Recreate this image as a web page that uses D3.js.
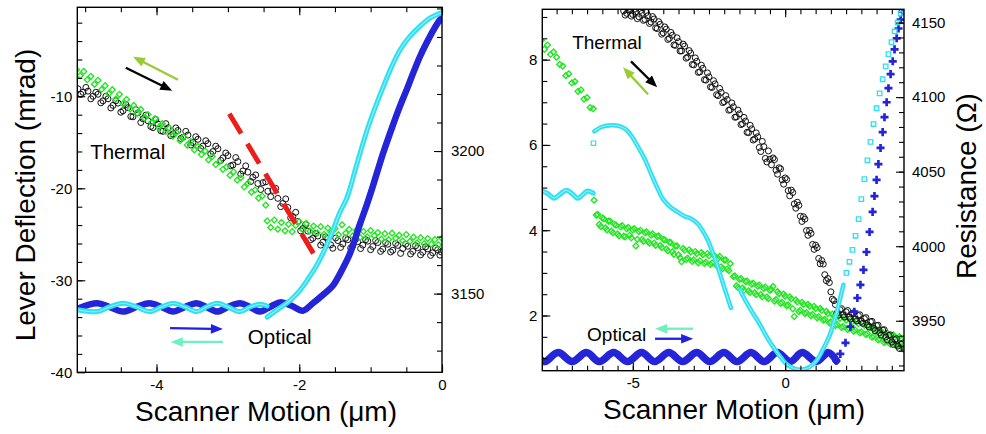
<!DOCTYPE html>
<html>
<head>
<meta charset="utf-8">
<title>Lever deflection and resistance vs scanner motion</title>
<style>
  body { margin: 0; background: #fff; }
</style>
</head>
<body>
<svg id="chart" width="986" height="434"></svg>
<script src="https://d3js.org/d3.v7.min.js"></script>
<script>
// ---------- left panel (x in um, optical in mrad, thermal in ohm) ----------
var leftBlackCircles = [
  [-5.10,3221.8],[-5.03,3220.6],[-4.96,3221.0],[-4.89,3219.2],[-4.82,3219.9],[-4.75,3217.6],[-4.68,3218.3],
  [-4.61,3216.0],[-4.54,3216.8],[-4.47,3214.1],[-4.40,3215.2],[-4.33,3212.0],[-4.26,3213.4],[-4.19,3211.3],
  [-4.12,3210.6],[-4.05,3208.2],[-3.98,3209.5],[-3.91,3206.9],[-3.84,3208.1],[-3.77,3206.0],[-3.70,3207.2],
  [-3.63,3204.8],[-3.56,3205.6],[-3.49,3203.0],[-3.42,3204.1],[-3.35,3201.7],[-3.28,3202.6],[-3.21,3199.8],
  [-3.14,3200.8],[-3.07,3197.6],[-3.00,3198.4],[-2.93,3195.1],[-2.86,3196.3],[-2.79,3193.0],[-2.72,3192.6],
  [-2.65,3190.8],[-2.58,3188.6],[-2.51,3188.9],[-2.44,3185.9],[-2.37,3186.2],[-2.30,3183.4],[-2.23,3181.6],
  [-2.16,3180.2],[-2.09,3177.0],[-2.02,3175.3],[-1.95,3172.8],[-1.88,3171.9],[-1.81,3169.4],[-1.74,3170.2],
  [-1.67,3168.0],[-1.60,3169.3],[-1.53,3165.9],[-1.46,3168.6],[-1.39,3167.4],[-1.32,3168.9],[-1.25,3166.8],
  [-1.18,3168.2],[-1.11,3167.0],[-1.04,3168.4],[-0.97,3166.5],[-0.90,3167.9],[-0.83,3165.6],[-0.76,3167.3],
  [-0.69,3165.2],[-0.62,3166.9],[-0.55,3165.8],[-0.48,3166.6],[-0.41,3164.8],[-0.34,3166.1],[-0.27,3164.5],
  [-0.20,3165.7],[-0.13,3164.3],[-0.06,3165.4],[-0.01,3164.6]
];
var leftBlackCirclesB = [
  [-5.06,3219.9],[-4.99,3222.3],[-4.92,3218.3],[-4.85,3220.6],[-4.78,3216.9],[-4.71,3219.2],[-4.64,3215.1],
  [-4.57,3217.6],[-4.50,3213.6],[-4.43,3216.3],[-4.36,3212.1],[-4.29,3214.5],[-4.22,3210.0],[-4.15,3212.6],
  [-4.08,3208.6],[-4.01,3211.0],[-3.94,3207.1],[-3.87,3209.6],[-3.80,3205.4],[-3.73,3208.1],[-3.66,3204.4],
  [-3.59,3206.9],[-3.52,3202.1],[-3.45,3205.0],[-3.38,3200.9],[-3.31,3203.6],[-3.24,3199.0],[-3.17,3201.7],
  [-3.10,3196.7],[-3.03,3199.3],[-2.96,3194.8],[-2.89,3197.7],[-2.82,3191.9],[-2.75,3194.8],[-2.68,3189.3],
  [-2.61,3191.6],[-2.54,3186.5],[-2.47,3189.2],[-2.40,3184.0],[-2.33,3186.9],[-2.26,3180.5],[-2.19,3183.2],
  [-2.12,3176.6],[-2.05,3178.5],[-1.98,3172.0],[-1.91,3174.2],[-1.84,3168.9],[-1.77,3171.1],[-1.70,3167.0],
  [-1.63,3169.9],[-1.56,3167.1],[-1.49,3169.5],[-1.42,3166.2],[-1.35,3169.4],[-1.28,3166.0],[-1.21,3169.1],
  [-1.14,3165.8],[-1.07,3168.9],[-1.00,3165.4],[-0.93,3168.6],[-0.86,3164.8],[-0.79,3167.9],[-0.72,3164.6],
  [-0.65,3167.6],[-0.58,3164.1],[-0.51,3167.3],[-0.44,3163.9],[-0.37,3166.8],[-0.30,3163.6],[-0.23,3166.4],
  [-0.16,3163.4],[-0.09,3166.0],[-0.03,3163.5]
];
var leftGreenUpper = [
  [-5.12,3228.5],[-5.07,3226.4],[-5.02,3227.9],[-4.97,3225.0],[-4.92,3226.2],[-4.87,3223.4],[-4.82,3224.8],
  [-4.77,3221.6],[-4.72,3222.9],[-4.67,3220.1],[-4.62,3221.5],[-4.57,3218.2],[-4.52,3219.9],[-4.47,3216.6],
  [-4.42,3218.1],[-4.37,3214.7],[-4.32,3216.0],[-4.27,3213.2],[-4.22,3214.6],[-4.17,3211.5],[-4.12,3212.8],
  [-4.07,3210.0],[-4.02,3211.4],[-3.97,3208.3],[-3.92,3209.6],[-3.87,3206.9],[-3.82,3208.0],[-3.77,3205.2],
  [-3.72,3206.5],[-3.67,3203.6],[-3.62,3205.0],[-3.57,3202.1],[-3.52,3203.3],[-3.47,3200.4],[-3.42,3201.6],
  [-3.37,3198.8],[-3.32,3200.0],[-3.27,3196.9],[-3.22,3198.1],[-3.17,3195.3],[-3.12,3196.2],[-3.07,3193.6],
  [-3.02,3194.4],[-2.97,3191.5],[-2.92,3192.7],[-2.87,3189.8],[-2.82,3190.6],[-2.77,3187.4],[-2.72,3188.7],
  [-2.67,3185.6],[-2.62,3186.3],[-2.57,3183.5],[-2.52,3184.2],[-2.47,3181.0]
];
var leftGreenLower = [
  [-2.45,3175.5],[-2.40,3173.2],[-2.35,3175.8],[-2.30,3172.6],[-2.25,3174.9],[-2.20,3172.0],[-2.15,3174.3],
  [-2.10,3171.7],[-2.05,3173.9],[-2.00,3175.2],[-1.95,3172.4],[-1.90,3174.6],[-1.85,3171.9],[-1.80,3173.7],
  [-1.75,3171.3],[-1.70,3173.5],[-1.65,3170.8],[-1.60,3173.0],[-1.55,3171.5],[-1.50,3172.8],[-1.45,3170.6],
  [-1.40,3174.1],[-1.35,3171.2],[-1.30,3172.5],[-1.25,3170.2],[-1.20,3172.2],[-1.15,3169.7],[-1.10,3171.8],
  [-1.05,3169.9],[-1.00,3172.1],[-0.95,3170.3],[-0.90,3171.4],[-0.85,3169.1],[-0.80,3171.0],[-0.75,3168.9],
  [-0.70,3171.2],[-0.65,3169.4],[-0.60,3170.5],[-0.55,3168.5],[-0.50,3170.7],[-0.45,3168.3],[-0.40,3169.8],
  [-0.35,3167.8],[-0.30,3169.6],[-0.25,3167.5],[-0.20,3169.3],[-0.15,3167.4],[-0.10,3168.9],[-0.05,3167.1],
  [0.00,3169.4]
];
var leftBlueOptical = [
  [-5.11,-33.1],[-4.83,-32.5],[-4.66,-32.9],[-4.47,-33.4],[-4.28,-32.9],[-4.10,-32.5],[-3.93,-32.9],
  [-3.77,-33.4],[-3.60,-32.9],[-3.44,-32.5],[-3.30,-32.9],[-3.15,-33.4],[-3.00,-32.9],[-2.83,-32.5],
  [-2.69,-32.9],[-2.55,-33.4],[-2.41,-32.9],[-2.27,-32.4],[-2.10,-32.8],[-1.95,-33.3],[-1.81,-32.5],
  [-1.67,-31.6],[-1.53,-30.6],[-1.43,-29.3],[-1.29,-27.1],[-1.15,-23.9],[-1.05,-21.7],[-0.97,-19.8],
  [-0.83,-16.3],[-0.70,-13.4],[-0.59,-11.1],[-0.49,-9.2],[-0.40,-7.4],[-0.31,-5.7],[-0.21,-4.1],
  [-0.12,-2.8],[-0.03,-1.7],[0,-1.5]
];
var leftCyanWave = [
  [-5.11,-33.2],[-4.83,-33.4],[-4.66,-32.9],[-4.47,-32.5],[-4.28,-32.9],[-4.10,-33.4],[-3.93,-32.9],
  [-3.77,-32.5],[-3.60,-32.9],[-3.44,-33.4],[-3.30,-32.9],[-3.15,-32.5],[-3.00,-32.9],[-2.83,-33.4],
  [-2.69,-32.9],[-2.55,-32.6],[-2.45,-32.8]
];
var leftCyanRise = [
  [-2.45,-34.0],[-2.27,-33.0],[-2.13,-32.2],[-1.99,-31.1],[-1.89,-30.0],[-1.78,-28.7],[-1.67,-27.1],
  [-1.53,-24.6],[-1.43,-22.6],[-1.33,-21.0],[-1.19,-17.3],[-1.05,-13.7],[-0.94,-11.3],[-0.83,-9.1],
  [-0.70,-6.7],[-0.59,-5.0],[-0.45,-3.5],[-0.31,-2.4],[-0.17,-1.5],[0,-0.9]
];
var leftRedGuide = [[-2.98,-11.9],[-1.80,-27.1]];

var leftXTicks = [-4, -2, 0];
var leftYTicks = [-40, -30, -20, -10];
var leftRTicks = [3150, 3200];

// ---------- right panel (x in um, optical signal, thermal in ohm) ----------
var rightBlackCircles = [
  [-5.3,4157.8],[-5.2,4156.2],[-5.1,4158.3],[-5.0,4155.4],[-4.9,4157.3],[-4.8,4153.9],[-4.7,4156.2],
  [-4.6,4152.1],[-4.5,4154.6],[-4.4,4150.3],[-4.3,4152.4],[-4.2,4146.0],[-4.1,4148.9],[-4.0,4143.1],
  [-3.9,4145.6],[-3.8,4139.4],[-3.7,4141.5],[-3.6,4134.7],[-3.5,4137.2],[-3.4,4131.0],[-3.3,4134.2],
  [-3.2,4126.8],[-3.1,4129.5],[-3.0,4121.6],[-2.9,4124.0],[-2.8,4116.9],[-2.7,4119.3],[-2.6,4111.4],
  [-2.5,4113.6],[-2.4,4106.5],[-2.3,4108.9],[-2.2,4101.0],[-2.1,4103.2],[-2.0,4096.9],[-1.9,4098.4],
  [-1.8,4091.6],[-1.7,4093.5],[-1.6,4086.7],[-1.5,4088.8],[-1.4,4082.1],[-1.3,4083.9],[-1.2,4076.2],
  [-1.1,4078.7],[-1.0,4071.9],[-0.9,4073.4],[-0.8,4063.5],[-0.7,4066.8],[-0.6,4056.5],[-0.5,4058.3],
  [-0.4,4059.2],[-0.3,4051.0],[-0.2,4052.6],[-0.1,4044.5],[0.0,4045.8],[0.1,4037.3],[0.2,4037.6],
  [0.3,4028.4],[0.4,4029.5],[0.5,4020.1],[0.6,4019.8],[0.7,4010.5],[0.8,4010.6],[0.9,4001.2],
  [1.0,4000.7],[1.1,3991.8],[1.2,3990.4],[1.3,3980.9],[1.4,3978.3],[1.5,3969.4],[1.6,3963.5],
  [1.7,3955.2],[1.8,3957.4],[1.9,3953.9],[2.0,3956.0],[2.1,3952.4],[2.2,3954.8],[2.3,3951.1],
  [2.4,3953.5],[2.5,3949.6],[2.6,3951.4],[2.7,3947.2],[2.8,3949.3],[2.9,3944.9],[3.0,3946.8],
  [3.1,3942.0],[3.2,3943.8],[3.3,3939.1],[3.4,3940.2],[3.5,3935.8],[3.6,3937.2],[3.7,3933.0],
  [3.8,3934.3],[3.9,3931.0]
];
var rightBlackCirclesB = [
  [-5.25,4155.0],[-5.15,4158.6],[-5.05,4154.3],[-4.95,4159.0],[-4.85,4152.6],[-4.75,4158.1],[-4.65,4151.5],
  [-4.55,4156.8],[-4.45,4149.4],[-4.35,4154.0],[-4.25,4146.4],[-4.15,4150.6],[-4.05,4142.2],[-3.95,4147.1],
  [-3.85,4138.7],[-3.75,4143.4],[-3.65,4135.0],[-3.55,4139.8],[-3.45,4130.9],[-3.35,4135.6],[-3.25,4126.1],
  [-3.15,4131.2],[-3.05,4121.9],[-2.95,4126.3],[-2.85,4116.6],[-2.75,4121.4],[-2.65,4111.7],[-2.55,4116.2],
  [-2.45,4106.8],[-2.35,4111.0],[-2.25,4101.6],[-2.15,4105.8],[-2.05,4096.3],[-1.95,4101.0],[-1.85,4091.2],
  [-1.75,4096.1],[-1.65,4086.5],[-1.55,4091.3],[-1.45,4081.6],[-1.35,4086.4],[-1.25,4076.4],[-1.15,4081.1],
  [-1.05,4071.2],[-0.95,4076.0],[-0.85,4066.2],[-0.75,4070.3],[-0.65,4058.9],[-0.55,4063.9],[-0.45,4054.6],
  [-0.35,4058.1],[-0.25,4048.3],[-0.15,4051.9],[-0.05,4041.6],[0.05,4044.7],[0.15,4033.8],[0.25,4036.0],
  [0.35,4025.5],[0.45,4027.4],[0.55,4016.6],[0.65,4018.2],[0.75,4007.3],[0.85,4008.6],[0.95,3997.9],
  [1.05,3999.0],[1.15,3988.2],[1.25,3988.0],[1.35,3976.9],[1.45,3975.6],[1.55,3964.5],[1.65,3960.8],
  [1.75,3953.8],[1.85,3958.1],[1.95,3952.6],[2.05,3956.9],[2.15,3951.3],[2.25,3955.4],[2.35,3949.9],
  [2.45,3954.0],[2.55,3948.3],[2.65,3952.1],[2.75,3945.8],[2.85,3949.6],[2.95,3943.4],[3.05,3947.0],
  [3.15,3940.4],[3.25,3944.0],[3.35,3937.2],[3.45,3940.6],[3.55,3934.1],[3.65,3937.9],[3.75,3931.4],
  [3.85,3934.9]
];
var rightGreenTop = [
  [-8.0,4138.0],[-7.9,4132.1],[-7.8,4134.9],[-7.7,4128.6],[-7.6,4130.3],[-7.5,4126.8],[-7.4,4121.9],
  [-7.3,4120.8],[-7.2,4114.4],[-7.1,4115.6],[-7.0,4109.5],[-6.9,4110.4],[-6.8,4103.9],[-6.7,4104.8],
  [-6.6,4098.7],[-6.5,4099.6],[-6.4,4093.0],[-6.3,4092.2]
];
var rightGreenSingle = [[-6.27,4030.9]];
var rightGreenMiddle = [
  [-6.2,4020.9],[-6.1,4014.6],[-6.0,4019.0],[-5.9,4012.3],[-5.8,4016.8],[-5.7,4010.1],[-5.6,4014.7],
  [-5.5,4008.2],[-5.4,4012.9],[-5.3,4006.8],[-5.2,4011.7],[-5.1,4007.3],[-5.0,4010.9],[-4.9,4000.2],
  [-4.8,4009.8],[-4.7,4004.5],[-4.6,4008.9],[-4.5,4003.0],[-4.4,4007.4],[-4.3,4002.1],[-4.2,4006.5],
  [-4.1,4000.4],[-4.0,4004.6],[-3.9,3998.2],[-3.8,4002.7],[-3.7,3996.3],[-3.6,4000.1],[-3.5,3994.2],
  [-3.4,3989.6],[-3.3,3997.3],[-3.2,3992.0],[-3.1,3996.1],[-3.0,3990.9],[-2.9,3995.0],[-2.8,3990.2],
  [-2.7,3994.4],[-2.6,3989.3],[-2.5,3993.6],[-2.4,3988.8],[-2.3,3993.0],[-2.2,3991.8],[-2.1,3986.2],
  [-2.0,3990.7],[-1.9,3984.7],[-1.8,3988.3]
];
var rightGreenMiddleB = [
  [-6.15,4021.3],[-6.05,4013.2],[-5.95,4018.4],[-5.85,4011.0],[-5.75,4016.9],[-5.65,4009.0],[-5.55,4014.1],
  [-5.45,4007.0],[-5.35,4013.8],[-5.25,4006.3],[-5.15,4012.6],[-5.05,4005.7],[-4.95,4011.8],[-4.85,4004.6],
  [-4.75,4010.7],[-4.65,4003.3],[-4.55,4009.6],[-4.45,4002.0],[-4.35,4008.2],[-4.25,4000.6],[-4.15,4006.9],
  [-4.05,3999.1],[-3.95,4004.3],[-3.85,3996.9],[-3.75,4002.4],[-3.65,3994.6],[-3.55,4000.2],[-3.45,3992.3],
  [-3.35,3998.5],[-3.25,3991.1],[-3.15,3997.6],[-3.05,3989.8],[-2.95,3996.4],[-2.85,3988.9],[-2.75,3995.7],
  [-2.65,3988.4],[-2.55,3995.1],[-2.45,3987.7],[-2.35,3994.2],[-2.25,3986.9],[-2.15,3993.1],[-2.05,3985.0],
  [-1.95,3990.9],[-1.85,3983.6]
];
var rightGreenBottom = [
  [-1.7,3979.6],[-1.6,3973.4],[-1.5,3977.8],[-1.4,3971.9],[-1.3,3976.2],[-1.2,3970.1],[-1.1,3974.5],
  [-1.0,3968.8],[-0.9,3973.2],[-0.8,3967.6],[-0.7,3971.7],[-0.6,3966.0],[-0.5,3970.4],[-0.4,3973.0],
  [-0.3,3964.1],[-0.2,3968.2],[-0.1,3962.4],[0.0,3966.5],[0.1,3960.6],[0.2,3964.7],[0.3,3952.8],
  [0.4,3962.6],[0.5,3957.0],[0.6,3961.0],[0.7,3955.5],[0.8,3959.8],[0.9,3954.2],[1.0,3958.3],
  [1.1,3952.8],[1.2,3956.9],[1.3,3951.0],[1.4,3954.8],[1.5,3949.2],[1.6,3953.1],[1.7,3947.5],
  [1.8,3951.6],[1.9,3946.2],[2.0,3950.4],[2.1,3944.9],[2.2,3949.2],[2.3,3943.8],[2.4,3948.0],
  [2.5,3942.6],[2.6,3946.9],[2.7,3941.4],[2.8,3945.3],[2.9,3939.7],[3.0,3943.4],[3.1,3937.8],
  [3.2,3941.5],[3.3,3936.2],[3.4,3940.3],[3.5,3935.1],[3.6,3938.9],[3.7,3933.8],[3.8,3937.7],
  [3.9,3934.0]
];
var rightGreenBottomB = [
  [-1.65,3980.1],[-1.55,3972.4],[-1.45,3978.3],[-1.35,3970.5],[-1.25,3976.6],[-1.15,3969.0],[-1.05,3975.2],
  [-0.95,3967.5],[-0.85,3973.9],[-0.75,3966.1],[-0.65,3972.6],[-0.55,3964.9],[-0.45,3971.0],[-0.35,3963.2],
  [-0.25,3969.5],[-0.15,3961.7],[-0.05,3967.9],[0.05,3960.0],[0.15,3966.1],[0.25,3958.0],[0.35,3964.0],
  [0.45,3956.2],[0.55,3962.4],[0.65,3954.8],[0.75,3961.0],[0.85,3953.3],[0.95,3959.7],[1.05,3952.0],
  [1.15,3958.3],[1.25,3950.4],[1.35,3956.3],[1.45,3948.6],[1.55,3954.5],[1.65,3946.8],[1.75,3953.0],
  [1.85,3945.4],[1.95,3951.6],[2.05,3944.1],[2.15,3950.3],[2.25,3942.9],[2.35,3949.4],[2.45,3941.8],
  [2.55,3948.2],[2.65,3940.7],[2.75,3946.9],[2.85,3939.0],[2.95,3945.0],[3.05,3937.1],[3.15,3943.1],
  [3.25,3935.4],[3.35,3941.7],[3.45,3934.3],[3.55,3940.5],[3.65,3933.1],[3.75,3939.3],[3.85,3932.2]
];
var rightCyanWave = [
  [-8.0,4.92],[-7.81,4.87],[-7.58,4.75],[-7.38,4.85],[-7.18,4.94],[-6.98,4.85],[-6.82,4.75],
  [-6.66,4.82],[-6.49,4.92],[-6.30,4.87]
];
var rightCyanSingle = [[-6.29,6.04]];
var rightCyanHump = [
  [-6.26,6.32],[-6.03,6.42],[-5.70,6.46],[-5.44,6.44],[-5.24,6.37],[-5.04,6.21],[-4.84,5.97],
  [-4.61,5.67],[-4.38,5.29],[-4.18,4.97],[-3.99,4.71],[-3.76,4.54],[-3.53,4.43],[-3.30,4.33],
  [-3.06,4.26],[-2.87,4.15],[-2.70,3.98],[-2.54,3.77],[-2.41,3.54],[-2.24,3.21],[-2.08,2.84],
  [-1.94,2.53],[-1.78,2.18]
];
var rightCyanValley = [
  [-1.48,2.60],[-1.35,2.41],[-1.22,2.25],[-1.09,2.09],[-0.92,1.90],[-0.79,1.74],[-0.66,1.57],
  [-0.53,1.41],[-0.40,1.27],[-0.26,1.13],[-0.13,1.01],[0.00,0.89],[0.17,0.80],[0.33,0.75],
  [0.49,0.73],[0.66,0.75],[0.82,0.80],[0.96,0.89],[1.05,0.96],[1.15,1.08],[1.25,1.22],
  [1.35,1.36],[1.48,1.57],[1.58,1.81],[1.68,2.04],[1.81,2.41],[1.91,2.72]
];
var rightCyanRise = [
  [2.01,3.00],[2.11,3.26],[2.21,3.54],[2.31,3.87],[2.41,4.26],[2.50,4.73],[2.60,5.20],[2.70,5.64],
  [2.80,6.07],[2.90,6.49],[3.00,6.86],[3.10,7.21],[3.20,7.54],[3.30,7.84],[3.39,8.13],
  [3.49,8.41],[3.59,8.66],[3.69,8.87],[3.79,9.08],[3.86,9.18]
];
var rightBlueWave = [
  [-8.01,0.96],[-7.88,0.92],[-7.45,1.13],[-6.99,0.92],[-6.52,1.13],[-6.10,0.92],[-5.63,1.13],
  [-5.17,0.92],[-4.71,1.13],[-4.28,0.92],[-3.82,1.13],[-3.36,0.92],[-2.90,1.13],[-2.47,0.92],
  [-2.01,1.13],[-1.58,0.92],[-1.12,1.13],[-0.69,0.92],[-0.26,1.13],[0.17,0.92],[0.56,1.13],
  [1.02,0.92],[1.42,1.13],[1.68,0.94]
];
var rightBlueRise = [
  [1.68,0.94],[1.81,1.10],[1.98,1.36],[2.14,1.74],[2.27,2.09],[2.37,2.41],[2.47,2.72],
  [2.57,3.07],[2.67,3.49],[2.77,3.96],[2.87,4.43],[2.93,4.80],[3.00,5.18],[3.06,5.55],
  [3.13,5.93],[3.20,6.30],[3.26,6.65],[3.33,7.00],[3.39,7.33],[3.46,7.66],[3.53,7.96],
  [3.59,8.24],[3.66,8.50],[3.72,8.73],[3.79,8.94],[3.86,9.13]
];

var rightXTicks = [-5, 0];
var rightYTicks = [2, 4, 6, 8];
var rightRTicks = [3950, 4000, 4050, 4100, 4150];

// annotations, in data units of the optical axis
var leftNotes = [
  {text: "Thermal", at: [-4.93, -16.8]},
  {text: "Optical", at: [-2.72, -36.9]}
];
var leftArrows = [
  {kind: "retract", from: [-3.70, -8.2], to: [-4.33, -5.7]},
  {kind: "approachT", from: [-4.43, -6.9], to: [-3.78, -9.4]},
  {kind: "approachO", from: [-3.81, -35.2], to: [-3.07, -35.3]},
  {kind: "retractO", from: [-3.07, -36.7], to: [-3.80, -36.7]}
];
var rightNotes = [
  {text: "Thermal", at: [-6.99, 8.26]},
  {text: "Optical", at: [-6.50, 1.41]}
];
var rightArrows = [
  {kind: "approachT", from: [-5.06, 7.96], to: [-4.20, 7.35]},
  {kind: "retract", from: [-4.50, 7.19], to: [-5.32, 7.82]},
  {kind: "retractO", from: [-3.02, 1.69], to: [-4.27, 1.69]},
  {kind: "approachO", from: [-4.27, 1.455], to: [-3.02, 1.455]}
];

var FONT = '"Liberation Sans", Arial, Helvetica, sans-serif';
var BLUE = "#2424d8", CYAN = "#2fe0f0", CYAN_IN = "#8feef8", GREEN = "#22e622";
var arrowColors = {retract: "#99cc33", approachT: "#000000", approachO: "#2020e0", retractO: "#6ef0c0"};

var svg = d3.select("#chart");

function makePanel(cfg) {
  var g = svg.append("g");
  var x = d3.scaleLinear().domain(cfg.xDomain).range([cfg.left, cfg.right]);
  var y = d3.scaleLinear().domain(cfg.yDomain).range([cfg.bottom, cfg.top]);
  var r = d3.scaleLinear().domain(cfg.rDomain).range([cfg.bottom, cfg.top]);
  svg.append("clipPath").attr("id", cfg.id).append("rect")
    .attr("x", cfg.left).attr("y", cfg.top)
    .attr("width", cfg.right - cfg.left).attr("height", cfg.bottom - cfg.top);
  var plot = g.append("g").attr("clip-path", "url(#" + cfg.id + ")");
  return {cfg: cfg, g: g, x: x, y: y, r: r, plot: plot};
}

function styleAxis(sel) {
  sel.select(".domain").remove();
  sel.selectAll("line").attr("stroke", "#000").attr("stroke-width", 1.1);
  sel.selectAll("text").attr("font-family", FONT).attr("font-size", 15).attr("fill", "#000");
}

function drawAxes(p, xMinor, yMinor, rMinor, xTicks, yTicks, rTicks, pad) {
  var c = p.cfg, g = p.g, fmt = function(d) { return String(d); };
  g.append("g").attr("transform", "translate(0," + c.bottom + ")")
    .call(d3.axisBottom(p.x).tickValues(xMinor).tickSize(-5).tickFormat("")).call(styleAxis);
  g.append("g").attr("transform", "translate(0," + c.bottom + ")")
    .call(d3.axisBottom(p.x).tickValues(xTicks).tickSize(-8).tickPadding(7).tickFormat(fmt)).call(styleAxis);
  g.append("g").attr("transform", "translate(0," + c.top + ")")
    .call(d3.axisTop(p.x).tickValues(xMinor).tickSize(-5).tickFormat("")).call(styleAxis);
  g.append("g").attr("transform", "translate(0," + c.top + ")")
    .call(d3.axisTop(p.x).tickValues(xTicks).tickSize(-8).tickFormat("")).call(styleAxis);
  g.append("g").attr("transform", "translate(" + c.left + ",0)")
    .call(d3.axisLeft(p.y).tickValues(yMinor).tickSize(-5).tickFormat("")).call(styleAxis);
  g.append("g").attr("transform", "translate(" + c.left + ",0)")
    .call(d3.axisLeft(p.y).tickValues(yTicks).tickSize(-8).tickPadding(pad.left).tickFormat(fmt)).call(styleAxis);
  g.append("g").attr("transform", "translate(" + c.right + ",0)")
    .call(d3.axisRight(p.r).tickValues(rMinor).tickSize(-5).tickFormat("")).call(styleAxis);
  g.append("g").attr("transform", "translate(" + c.right + ",0)")
    .call(d3.axisRight(p.r).tickValues(rTicks).tickSize(-8).tickPadding(pad.right).tickFormat(fmt)).call(styleAxis);
  g.append("rect").attr("x", c.left).attr("y", c.top)
    .attr("width", c.right - c.left).attr("height", c.bottom - c.top)
    .attr("fill", "none").attr("stroke", "#000").attr("stroke-width", 1.4);
}

function band(p, data, ys, color, width, inner) {
  var line = d3.line().x(function(d) { return p.x(d[0]); }).y(function(d) { return ys(d[1]); })
    .curve(d3.curveCatmullRom.alpha(0.5));
  p.plot.append("path").datum(data).attr("d", line).attr("fill", "none")
    .attr("stroke", color).attr("stroke-width", width)
    .attr("stroke-linejoin", "round").attr("stroke-linecap", "round");
  if (inner) {
    p.plot.append("path").datum(data).attr("d", line).attr("fill", "none")
      .attr("stroke", inner).attr("stroke-width", 1.1).attr("stroke-linecap", "round");
  }
}

function symbols(p, data, ys, type, size, fill, stroke, sw, rot) {
  p.plot.append("g").selectAll("path").data(data).join("path")
    .attr("transform", function(d) {
      return "translate(" + p.x(d[0]) + "," + ys(d[1]) + ")" + (rot ? " rotate(" + rot + ")" : "");
    })
    .attr("d", d3.symbol(type, size))
    .attr("fill", fill).attr("stroke", stroke).attr("stroke-width", sw);
}

function diamonds(p, data) {
  symbols(p, data, p.r, d3.symbolSquare, 17, "none", GREEN, 1.35, 45);
}

function circles(p, data, ys) {
  p.plot.append("g").selectAll("circle").data(data).join("circle")
    .attr("cx", function(d) { return p.x(d[0]); })
    .attr("cy", function(d) { return ys(d[1]); })
    .attr("r", 3).attr("fill", "none").attr("stroke", "#111").attr("stroke-width", 1);
}

function arrows(p, list) {
  list.forEach(function(a) {
    var x1 = p.x(a.from[0]), y1 = p.y(a.from[1]), x2 = p.x(a.to[0]), y2 = p.y(a.to[1]);
    var dx = x2 - x1, dy = y2 - y1, len = Math.sqrt(dx * dx + dy * dy);
    var ux = dx / len, uy = dy / len, hl = 12, hw = 4.8;
    var bx = x2 - ux * hl, by = y2 - uy * hl;
    var col = arrowColors[a.kind];
    p.g.append("line").attr("x1", x1).attr("y1", y1).attr("x2", bx + ux * 2).attr("y2", by + uy * 2)
      .attr("stroke", col).attr("stroke-width", 2.3);
    p.g.append("path")
      .attr("d", "M" + x2 + "," + y2 + "L" + (bx - uy * hw) + "," + (by + ux * hw) +
                 "L" + (bx + uy * hw) + "," + (by - ux * hw) + "Z")
      .attr("fill", col);
  });
}

function notes(p, list, size) {
  list.forEach(function(n) {
    p.g.append("text").attr("x", p.x(n.at[0])).attr("y", p.y(n.at[1]))
      .attr("font-family", FONT).attr("font-size", size).attr("fill", "#000").text(n.text);
  });
}

// ---------- left panel ----------
var L = makePanel({id: "clipL", left: 77.3, right: 442, top: 7.3, bottom: 372.3,
  xDomain: [-5.11, 0], yDomain: [-40, -0.33], rDomain: [3122.4, 3250.4]});

circles(L, leftBlackCircles, L.r);
circles(L, leftBlackCirclesB, L.r);
diamonds(L, leftGreenUpper);
diamonds(L, leftGreenLower);
L.plot.append("path").datum(leftRedGuide)
  .attr("d", d3.line().x(function(d) { return L.x(d[0]); }).y(function(d) { return L.y(d[1]); }))
  .attr("stroke", "#ee1c1c").attr("stroke-width", 5).attr("stroke-dasharray", "23,12").attr("fill", "none");
band(L, leftBlueOptical, L.y, BLUE, 6.5, null);
band(L, leftCyanWave, L.y, CYAN, 5, CYAN_IN);
band(L, leftCyanRise, L.y, CYAN, 5, CYAN_IN);

drawAxes(L, d3.range(-5, 0.01, 0.5), d3.range(-38, -1, 2), d3.range(3130, 3251, 10),
  leftXTicks, leftYTicks, leftRTicks, {left: 5, right: 9});
arrows(L, leftArrows);
notes(L, leftNotes, 20.5);

L.g.append("text").attr("transform", "translate(35,195) rotate(-90)")
  .attr("text-anchor", "middle").attr("font-family", FONT).attr("font-size", 28).text("Lever Deflection (mrad)");
L.g.append("text").attr("x", 266).attr("y", 421)
  .attr("text-anchor", "middle").attr("font-family", FONT).attr("font-size", 28).text("Scanner Motion (\u03bcm)");

// ---------- right panel ----------
var R = makePanel({id: "clipR", left: 542.3, right: 904, top: 9.3, bottom: 370.7,
  xDomain: [-7.97, 3.9], yDomain: [0.706, 9.18], rDomain: [3916.5, 4158.9]});

diamonds(R, rightGreenTop);
diamonds(R, rightGreenSingle);
diamonds(R, rightGreenMiddle);
diamonds(R, rightGreenMiddleB);
diamonds(R, rightGreenBottom);
diamonds(R, rightGreenBottomB);
circles(R, rightBlackCircles, R.r);
circles(R, rightBlackCirclesB, R.r);
band(R, rightBlueWave, R.y, BLUE, 7.5, null);
symbols(R, rightBlueRise, R.y, d3.symbolCross, 36, BLUE, "none", 0);
band(R, rightCyanWave, R.y, CYAN, 5, CYAN_IN);
symbols(R, rightCyanSingle, R.y, d3.symbolSquare, 20, "none", CYAN, 1.2);
band(R, rightCyanHump, R.y, CYAN, 4.5, CYAN_IN);
band(R, rightCyanValley, R.y, CYAN, 4.5, CYAN_IN);
symbols(R, rightCyanRise, R.y, d3.symbolSquare, 20, "none", CYAN, 1.3);

drawAxes(R, d3.range(-7.5, 3.91, 0.5), d3.range(1, 9.01, 0.5), d3.range(3920, 4158, 10),
  rightXTicks, rightYTicks, rightRTicks, {left: 5, right: 8});
arrows(R, rightArrows);
notes(R, rightNotes, 19);

R.g.append("text").attr("x", 734).attr("y", 419)
  .attr("text-anchor", "middle").attr("font-family", FONT).attr("font-size", 28).text("Scanner Motion (\u03bcm)");
R.g.append("text").attr("transform", "translate(976,186) rotate(-90)")
  .attr("text-anchor", "middle").attr("font-family", FONT).attr("font-size", 28).text("Resistance (\u03a9)");
</script>
</body>
</html>
